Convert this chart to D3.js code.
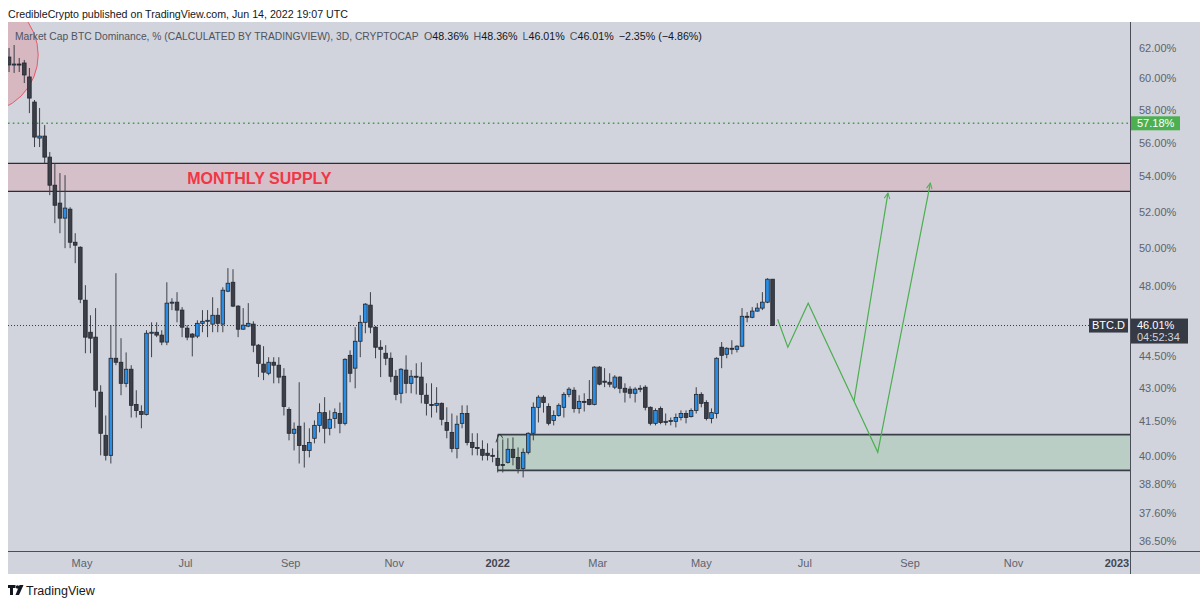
<!DOCTYPE html>
<html>
<head>
<meta charset="utf-8">
<script src="https://d3js.org/d3.v7.min.js"></script>
<style>
html,body{margin:0;padding:0;background:#ffffff;}
svg{display:block;font-family:"Liberation Sans",Arial,Helvetica,sans-serif;}
</style>
</head>
<body>
<svg id="chart" width="1200" height="603"></svg>
<script>
// ---------- DATA (3D candles, BTC dominance %) ----------
const opens = [
61.40,60.90,60.94,61.01,60.10,58.50,56.28,56.40,55.14,53.50,
52.48,51.64,52.14,50.32,50.05,47.28,45.68,45.44,42.83,40.89,
40.02,44.42,44.23,43.24,43.90,42.27,41.95,41.82,45.63,45.68,
45.54,45.20,47.13,47.18,46.78,45.88,45.59,45.49,46.12,46.22,
46.08,46.52,46.08,47.74,48.20,46.98,45.83,45.98,46.08,45.05,
44.14,43.71,44.23,44.09,43.57,42.04,40.98,41.29,40.45,40.23,
40.76,41.33,41.90,41.20,41.64,41.86,41.42,44.56,43.95,45.24,
46.17,47.03,45.93,44.95,44.66,44.42,43.57,42.78,43.86,43.24,
43.57,43.53,42.69,42.27,42.23,42.32,41.46,41.02,40.32,41.42,
41.86,40.58,40.36,40.28,40.11,40.02,39.89,39.63,39.72,40.28,
39.93,39.46,40.15,40.98,42.14,42.60,42.18,41.55,41.77,42.14,
42.73,42.92,42.09,42.41,42.50,42.27,44.00,43.34,43.29,43.06,
43.53,43.01,42.97,42.78,42.97,43.06,42.14,41.42,42.09,41.46,
41.51,41.51,41.68,41.86,41.72,42.00,42.73,42.36,41.64,41.86,
44.95,44.61,44.90,44.85,45.00,46.47,46.42,46.73,46.88,47.18,
48.36];
const highs = [
62.00,62.20,61.34,61.21,60.68,58.63,58.13,57.07,55.44,54.78,
54.20,54.08,52.25,50.81,50.10,48.05,46.52,46.88,43.15,41.77,
46.03,48.67,45.39,44.70,44.09,42.92,42.23,45.78,46.17,46.17,
45.78,48.20,47.38,47.69,46.93,46.03,45.64,46.27,46.78,46.78,
47.43,46.88,47.94,48.94,48.88,47.03,46.88,47.13,46.22,45.10,
45.00,44.47,44.47,44.47,43.95,42.14,41.46,43.29,41.46,41.20,
41.55,42.32,42.60,42.00,42.09,42.36,44.42,44.80,45.93,46.52,
47.13,47.69,45.98,45.29,45.05,44.70,43.86,43.95,44.56,43.86,
44.18,44.23,43.24,43.24,43.06,42.36,42.14,41.86,41.77,42.23,
42.23,40.98,40.98,40.67,40.54,40.32,40.23,40.71,40.76,40.80,
40.36,40.32,41.02,42.36,42.69,42.69,42.32,42.00,42.32,42.83,
43.06,43.06,42.69,42.78,43.39,44.04,44.04,43.95,43.71,43.62,
43.57,43.24,43.10,43.06,43.15,43.15,42.18,42.09,42.18,41.86,
41.68,41.86,42.00,42.00,42.09,43.06,42.83,42.46,42.09,44.47,
45.20,44.95,45.29,45.05,46.88,46.68,46.93,47.13,47.69,48.41,
48.36];
const lows = [
60.42,60.36,60.42,59.71,57.81,55.74,55.74,54.78,52.93,51.36,
50.81,50.00,50.00,49.20,47.13,44.66,44.66,42.14,40.02,39.80,
39.67,44.09,42.69,43.06,41.68,41.68,41.20,41.77,44.47,45.44,
45.05,45.05,46.78,46.17,45.44,45.29,44.51,45.39,45.68,45.44,
45.68,45.68,45.68,47.69,46.93,45.44,45.80,45.93,44.71,43.53,
43.39,43.62,43.24,43.24,41.77,40.67,40.23,39.67,39.50,39.93,
40.54,41.02,40.54,40.89,41.20,40.98,41.33,43.29,43.01,44.47,
45.63,45.63,44.42,43.53,44.09,43.29,42.46,42.32,42.78,42.78,
42.73,42.32,41.77,41.68,41.90,41.33,40.76,40.15,39.89,41.20,
40.45,40.02,40.02,39.80,39.80,39.72,39.29,39.29,39.67,39.59,
39.25,39.08,40.06,40.67,41.46,41.90,41.33,41.33,41.72,41.68,
42.60,41.90,41.86,41.95,42.23,42.23,43.15,43.06,43.06,42.97,
42.78,42.36,42.55,42.36,42.83,42.00,41.33,41.33,41.38,41.33,
41.33,41.24,41.55,41.42,41.68,41.86,42.14,41.55,41.42,41.64,
43.95,44.42,44.61,44.70,44.95,46.17,46.37,46.70,46.78,47.13,
46.01];
const closes = [
60.88,60.94,60.92,60.23,58.75,56.34,56.40,55.14,53.50,52.36,
51.64,52.20,50.32,50.16,47.33,45.44,45.39,42.92,40.98,40.02,
44.42,44.23,43.24,43.90,42.23,42.00,41.82,45.63,45.68,45.54,
45.20,47.13,47.18,46.78,45.93,45.44,45.44,46.12,46.22,46.27,
46.52,46.12,47.79,48.15,46.98,45.83,46.03,46.12,45.05,44.18,
43.76,44.23,44.09,43.53,42.18,40.98,41.16,40.45,40.23,40.58,
41.33,41.90,41.20,41.60,41.90,41.42,44.37,43.71,45.24,46.17,
47.08,45.93,44.95,44.85,44.42,43.57,42.73,43.90,43.24,43.57,
43.53,42.73,42.32,42.23,42.32,41.60,41.11,40.32,41.38,41.86,
40.58,40.36,40.32,40.02,40.02,39.98,39.59,39.59,40.28,39.93,
39.46,40.15,40.98,42.14,42.60,42.36,41.42,41.77,42.23,42.73,
42.97,42.09,42.41,42.36,42.27,44.00,43.20,43.29,43.20,43.53,
43.01,42.83,42.78,42.97,43.01,42.14,41.42,42.00,41.46,41.51,
41.55,41.68,41.86,41.68,42.00,42.73,42.32,41.64,41.90,44.42,
44.56,44.90,44.85,45.00,46.47,46.42,46.73,46.88,47.18,48.36,
46.01];
const firstCandleDate = "2021-03-19";
const candleStepDays = 3;

const yTickValues = [62, 60, 58, 56, 54, 52, 50, 48, 44.5, 43, 41.5, 40, 38.8, 37.6, 36.5];
const xTickDates = ["2021-05-01","2021-07-01","2021-09-01","2021-11-01","2022-01-01","2022-03-01","2022-05-01","2022-07-01","2022-09-01","2022-11-01","2023-01-01"];
const xTickLabels = ["May","Jul","Sep","Nov","2022","Mar","May","Jul","Sep","Nov","2023"];

const supplyZone = [53.15, 54.77];
const demandZone = [39.38, 40.92];
const demandStartDate = "2022-01-01";
const targetLevel = 57.18;
const lastPrice = 46.01;

const projMainDates = ["2022-06-15","2022-06-21","2022-07-03","2022-07-30","2022-08-13","2022-09-13"];
const projMainValues = [46.32, 44.95, 47.13, 42.42, 40.15, 53.62];
const projAltDates = ["2022-07-30","2022-08-19"];
const projAltValues = [42.42, 53.05];
const caretDates = ["2021-12-31","2022-01-02","2022-01-04"];
const caretValues = [40.58, 40.93, 40.76];
const circleDate = "2021-03-02";
const circleValue = 61.54;
const supplyLabelDate = "2021-07-02";
const supplyLabelValue = 53.56;

// ---------- LAYOUT ----------
const parse = d3.utcParse("%Y-%m-%d");
const plot = {left: 8, right: 1130, top: 22, bottom: 551, bgBottom: 574};
const x = d3.scaleUtc().domain([parse("2021-05-01"), parse("2023-01-01")]).range([82, 1117]);
const y = d3.scaleLog().domain([36.5, 62]).range([541, 48]);

const t0 = parse(firstCandleDate);
const candles = opens.map((o, i) => ({
  date: d3.utcDay.offset(t0, i * candleStepDays),
  o, h: highs[i], l: lows[i], c: closes[i]
}));

const svg = d3.select("#chart");
const BG = "#d1d4dc";

svg.append("rect").attr("width", 1200).attr("height", 603).attr("fill", "#ffffff");
svg.append("rect").attr("x", plot.left).attr("y", plot.top)
  .attr("width", 1200 - plot.left).attr("height", plot.bgBottom - plot.top).attr("fill", BG);

// header
svg.append("text").attr("x", 8).attr("y", 17.5).attr("font-size", 11.5).attr("fill", "#131722")
  .attr("textLength", 340).attr("lengthAdjust", "spacingAndGlyphs")
  .text("CredibleCrypto published on TradingView.com, Jun 14, 2022 19:07 UTC");

const defs = svg.append("defs");
defs.append("clipPath").attr("id", "plotClip").append("rect")
  .attr("x", plot.left).attr("y", plot.top)
  .attr("width", plot.right - plot.left).attr("height", plot.bottom - plot.top);
defs.append("marker").attr("id", "arrow").attr("viewBox", "0 0 10 10")
  .attr("refX", 9).attr("refY", 5).attr("markerWidth", 7).attr("markerHeight", 7)
  .attr("markerUnits", "userSpaceOnUse").attr("orient", "auto")
  .append("path").attr("d", "M1,1 L9,5 L1,9").attr("fill", "none")
  .attr("stroke", "#4caf50").attr("stroke-width", 1.4);

const g = svg.append("g").attr("clip-path", "url(#plotClip)");

// red circle
g.append("circle").attr("cx", x(parse(circleDate))).attr("cy", y(circleValue)).attr("r", 58)
  .attr("fill", "rgba(242,54,69,0.18)").attr("stroke", "rgba(242,54,69,0.75)").attr("stroke-width", 1);

// supply zone
g.append("rect").attr("x", plot.left).attr("y", y(supplyZone[1]))
  .attr("width", plot.right - plot.left).attr("height", y(supplyZone[0]) - y(supplyZone[1]))
  .attr("fill", "rgba(242,54,69,0.13)");
[supplyZone[0], supplyZone[1]].forEach(v => {
  g.append("line").attr("x1", plot.left).attr("x2", plot.right).attr("y1", y(v)).attr("y2", y(v))
    .attr("stroke", "#2a2e39").attr("stroke-width", 1.3);
});
g.append("text").attr("x", x(parse(supplyLabelDate))).attr("y", y(supplyLabelValue))
  .attr("font-size", 16).attr("font-weight", "bold").attr("fill", "#f23645").text("MONTHLY SUPPLY");

// demand zone
const dx0 = x(parse(demandStartDate));
g.append("rect").attr("x", dx0).attr("y", y(demandZone[1]))
  .attr("width", plot.right - dx0).attr("height", y(demandZone[0]) - y(demandZone[1]))
  .attr("fill", "rgba(76,175,80,0.16)");
[demandZone[0], demandZone[1]].forEach(v => {
  g.append("line").attr("x1", dx0).attr("x2", plot.right).attr("y1", y(v)).attr("y2", y(v))
    .attr("stroke", "#3a3e48").attr("stroke-width", 1.6);
});
g.append("line").attr("x1", dx0).attr("x2", dx0).attr("y1", y(demandZone[1])).attr("y2", y(demandZone[0]))
  .attr("stroke", "#3a3e48").attr("stroke-width", 1);
g.append("path")
  .attr("d", d3.line().curve(d3.curveCardinal).x((d, i) => x(parse(caretDates[i]))).y((d) => y(d))(caretValues))
  .attr("fill", "none").attr("stroke", "#2a2e39").attr("stroke-width", 1);

// level lines
g.append("line").attr("x1", plot.left).attr("x2", plot.right).attr("y1", y(targetLevel)).attr("y2", y(targetLevel))
  .attr("stroke", "#3f9f43").attr("stroke-width", 1.4).attr("stroke-dasharray", "1.6,3.2");
g.append("line").attr("x1", plot.left).attr("x2", plot.right).attr("y1", y(lastPrice)).attr("y2", y(lastPrice))
  .attr("stroke", "#363a45").attr("stroke-width", 1).attr("stroke-dasharray", "1,2");

// candles
const cg = g.append("g");
candles.forEach(d => {
  const cx = x(d.date);
  const up = d.c > d.o;
  cg.append("line").attr("x1", cx).attr("x2", cx).attr("y1", y(d.h)).attr("y2", y(d.l))
    .attr("stroke", "#3d4049").attr("stroke-width", 1);
  const top = y(Math.max(d.o, d.c)), bot = y(Math.min(d.o, d.c));
  cg.append("rect").attr("x", cx - 1.8).attr("y", top).attr("width", 3.6)
    .attr("height", Math.max(1, bot - top))
    .attr("fill", up ? "#2a8ee6" : "#3c3f48").attr("stroke", "#23262e").attr("stroke-width", 0.8);
});

// projections
const projLine = d3.line().x(d => x(d[0])).y(d => y(d[1]));
g.append("path").attr("d", projLine(projMainDates.map((s, i) => [parse(s), projMainValues[i]])))
  .attr("fill", "none").attr("stroke", "#4caf50").attr("stroke-width", 1.2).attr("marker-end", "url(#arrow)");
g.append("path").attr("d", projLine(projAltDates.map((s, i) => [parse(s), projAltValues[i]])))
  .attr("fill", "none").attr("stroke", "#4caf50").attr("stroke-width", 1.2).attr("marker-end", "url(#arrow)");

// legend
const GRAY = "#50535e", DARK = "#131722";
svg.append("text").attr("x", 15).attr("y", 40).attr("font-size", 10.3).attr("fill", GRAY)
  .text("Market Cap BTC Dominance, % (CALCULATED BY TRADINGVIEW), 3D, CRYPTOCAP");
const legParts = [["O", GRAY, 0], ["48.36%", DARK, 0], ["H", GRAY, 5], ["48.36%", DARK, 0],
  ["L", GRAY, 5], ["46.01%", DARK, 0], ["C", GRAY, 5], ["46.01%", DARK, 0],
  ["\u22122.35% (\u22124.86%)", DARK, 5]];
const leg2 = svg.append("text").attr("x", 424).attr("y", 40).attr("font-size", 10.7);
legParts.forEach(p => {
  const ts = leg2.append("tspan").attr("fill", p[1]).text(p[0]);
  if (p[2]) ts.attr("dx", p[2]);
});

// axes lines
svg.append("line").attr("x1", plot.right + 0.5).attr("x2", plot.right + 0.5).attr("y1", plot.top).attr("y2", plot.bgBottom)
  .attr("stroke", "#4a4e59").attr("stroke-width", 1);
svg.append("line").attr("x1", plot.left).attr("x2", 1200).attr("y1", plot.bottom + 0.5).attr("y2", plot.bottom + 0.5)
  .attr("stroke", "#4a4e59").attr("stroke-width", 1);

// y labels
svg.append("g").selectAll("text").data(yTickValues).join("text")
  .attr("x", 1139).attr("y", d => y(d)).attr("dy", "0.35em").attr("font-size", 11)
  .attr("fill", "#60636e").text(d => d.toFixed(2) + "%");

// x labels
svg.append("g").selectAll("text").data(xTickDates).join("text")
  .attr("x", d => x(parse(d))).attr("y", 567).attr("text-anchor", "middle").attr("font-size", 11)
  .attr("font-weight", (d, i) => /^\d{4}$/.test(xTickLabels[i]) ? "bold" : "normal")
  .attr("fill", (d, i) => /^\d{4}$/.test(xTickLabels[i]) ? "#434651" : "#60636e")
  .text((d, i) => xTickLabels[i]);

// price labels
const ty = y(targetLevel);
svg.append("rect").attr("x", 1131).attr("y", ty - 7).attr("width", 49).attr("height", 14).attr("fill", "#4caf50");
svg.append("text").attr("x", 1137).attr("y", ty).attr("dy", "0.35em").attr("font-size", 11).attr("fill", "#ffffff")
  .text(targetLevel.toFixed(2) + "%");

const py = y(lastPrice);
svg.append("rect").attr("x", 1089).attr("y", py - 7).attr("width", 39).attr("height", 14).attr("fill", "#363a45");
svg.append("text").attr("x", 1108.5).attr("y", py).attr("dy", "0.35em").attr("text-anchor", "middle")
  .attr("font-size", 11).attr("fill", "#ffffff").text("BTC.D");
svg.append("rect").attr("x", 1131).attr("y", py - 7).attr("width", 57).attr("height", 25).attr("fill", "#363a45");
svg.append("text").attr("x", 1137).attr("y", py).attr("dy", "0.35em").attr("font-size", 11).attr("fill", "#ffffff")
  .text(lastPrice.toFixed(2) + "%");
svg.append("text").attr("x", 1137).attr("y", py + 12).attr("dy", "0.35em").attr("font-size", 11).attr("fill", "#d1d4dc")
  .text("04:52:34");

// TradingView logo
const lg = svg.append("g").attr("fill", "#131722");
lg.append("path").attr("d", "M8,585 h7.5 v3 h-2.5 v7 h-3 v-7 h-2 z");
lg.append("circle").attr("cx", 17.5).attr("cy", 587).attr("r", 1.7);
lg.append("path").attr("d", "M19.5,585 h4 l-4.5,10 h-3.5 z");
svg.append("text").attr("x", 26).attr("y", 595).attr("font-size", 12.5).attr("fill", "#131722").text("TradingView");
</script>
</body>
</html>
